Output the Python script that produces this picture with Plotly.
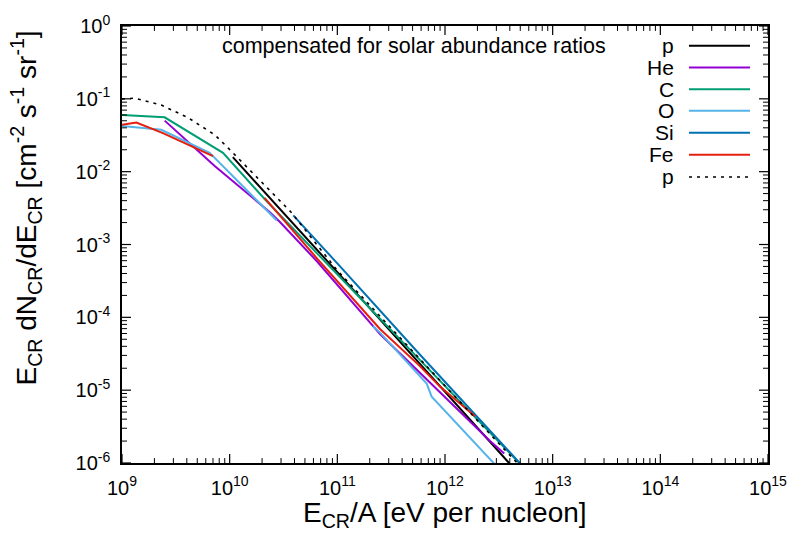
import math
import plotly.graph_objects as go

# ---------------- data (E/A in eV, flux) ----------------
p_E = [1.07e10, 2.93e10, 1e11, 3.16e11, 1e12, 3.98e12]
p_F = [1.58e-2, 3.09e-3, 4.17e-4, 6.3e-5, 9.5e-6, 9.8e-7]

he_E = [2.49e9, 7.26e9, 2.36e10, 2.93e10, 6.46e10, 2.49e11, 5.75e11, 2.62e12, 3.55e12]
he_F = [0.0502, 0.0120, 2.78e-3, 2.04e-3, 5.89e-4, 5.89e-5, 1.78e-5, 2.0e-6, 1.35e-6]

c_E = [1e9, 2.49e9, 8.67e9, 2.11e10, 4.9e12]
c_F = [0.0600, 0.0558, 0.0181, 4.22e-3, 1.0e-6]

o_E = [1e9, 2.32e9, 6.52e9, 2.74e10, None, 2.14e11, 2.49e11, 6.76e11, 7.52e11, 2.91e12]
o_F = [0.0422, 0.0376, 0.0181, 2.14e-3, None, 7.59e-5, 6.17e-5, 1.23e-5, 8.13e-6, 9.55e-7]

si_E = [3.9e10, 1e11, 5.75e11, 5.01e12]
si_F = [2.51e-3, 5.5e-4, 3.16e-5, 9.77e-7]

fe_E = [1e9, 1.36e9, 2.4e9, 7.0e9, None, 2.11e10, 6.46e10, 2.49e11, 5.75e11, 8.98e11, 1.90e12]
fe_F = [0.0440, 0.0472, 0.0339, 0.0163, None, 4.37e-3, 6.46e-4, 6.92e-5, 2.19e-5, 1.12e-5, 4.37e-6]

pd_E = [1e9, 1.32e9, 2.32e9, 4.1e9, 7.26e9, 9.66e9, 3.72e10, 1e11, 5.75e11, 4.68e12]
pd_F = [0.100, 0.102, 0.082, 0.0552, 0.0321, 0.0212, 2.78e-3, 4.4e-4, 2.75e-5, 1.0e-6]

labels = ["p", "He", "C", "O", "Si", "Fe", "p"]
colors = ["#000000", "#9400D3", "#009E73", "#56B4E9", "#0072B2", "#E51E10", "#000000"]
dashes = ["solid", "solid", "solid", "solid", "solid", "solid", "3px,5px"]

x_exps = list(range(9, 16))
y_exps = list(range(-6, 1))
x_tickvals = [10.0 ** e for e in x_exps]
x_ticktext = ["10<sup>%d</sup>" % e for e in x_exps]
y_tickvals = [10.0 ** e for e in y_exps]
y_ticktext = ["10<sup>%d</sup>" % e for e in y_exps]
x_minor = [m * 10.0 ** e for e in x_exps[:-1] for m in range(2, 10)]
y_minor = [m * 10.0 ** e for e in y_exps[:-1] for m in range(2, 10)]

series = [(p_E, p_F), (he_E, he_F), (c_E, c_F), (o_E, o_F), (si_E, si_F), (fe_E, fe_F), (pd_E, pd_F)]

FONT = "Liberation Sans, Arial, Helvetica, sans-serif"
W, H = 802, 537
L, R, T, B = 122, 34, 20, 74
PW, PH = W - L - R, H - T - B
XR = [9, 15]
YR = [-6, 0]

fig = go.Figure()
for (xe, yf), lab, col, d in zip(series, labels, colors, dashes):
    fig.add_trace(go.Scatter(x=xe, y=yf, mode="lines", name=lab, connectgaps=False,
                             line=dict(color=col, width=2 if d == "solid" else 1.6, dash=d),
                             showlegend=False))

def px2paper(px, py):
    return (px - L) / PW, (H - B - py) / PH

shapes = []
annotations = []

# tick marks on all four sides (inside), drawn as thin lines
MAJ, MIN = 9, 5
def xtick(v, ln, w):
    xp = (math.log10(v) - XR[0]) / (XR[1] - XR[0])
    for y0, y1 in ((0, ln / PH), (1, 1 - ln / PH)):
        shapes.append(dict(type="line", xref="paper", yref="paper", x0=xp, x1=xp, y0=y0, y1=y1,
                           line=dict(color="black", width=w), layer="above"))
def ytick(v, ln, w):
    yp = (math.log10(v) - YR[0]) / (YR[1] - YR[0])
    for x0, x1 in ((0, ln / PW), (1, 1 - ln / PW)):
        shapes.append(dict(type="line", xref="paper", yref="paper", x0=x0, x1=x1, y0=yp, y1=yp,
                           line=dict(color="black", width=w), layer="above"))
for v in x_tickvals:
    xtick(v, MAJ, 1.2)
for v in x_minor:
    xtick(v, MIN, 1)
for v in y_tickvals:
    ytick(v, MAJ, 1.2)
for v in y_minor:
    ytick(v, MIN, 1)

# custom gnuplot-style legend: text right-aligned, sample line to the right
rows_y = [40, 62, 84, 106, 128.3, 150.6, 173]
for lab, col, d, ry in zip(labels, colors, dashes, rows_y):
    x0, y0 = px2paper(689, ry)
    x1, _ = px2paper(750, ry)
    shapes.append(dict(type="line", xref="paper", yref="paper", x0=x0, x1=x1, y0=y0, y1=y0,
                       line=dict(color=col, width=2 if d == "solid" else 1.6, dash=d)))
    tx, ty = px2paper(676, ry)
    annotations.append(dict(text=lab, xref="paper", yref="paper", x=tx, y=ty, xanchor="right",
                            yanchor="middle", showarrow=False, font=dict(family=FONT, size=21, color="black")))

tx, ty = px2paper(608, 40)
annotations.append(dict(text="compensated for solar abundance ratios", xref="paper", yref="paper",
                        x=tx, y=ty, xanchor="right", yanchor="middle", showarrow=False,
                        font=dict(family=FONT, size=21.5, color="black")))

# axis titles
tx, ty = px2paper(L + PW / 2, 515)
annotations.append(dict(text="E<sub>CR</sub>/A [eV per nucleon]", xref="paper", yref="paper",
                        x=tx, y=ty, xanchor="center", yanchor="middle", showarrow=False,
                        font=dict(family=FONT, size=28, color="black")))
tx, ty = px2paper(27, 205)
annotations.append(dict(text="E<sub>CR</sub> dN<sub>CR</sub>/dE<sub>CR</sub> [cm<sup>-2</sup> s<sup>-1</sup> sr<sup>-1</sup>]",
                        xref="paper", yref="paper", x=tx, y=ty, xanchor="center", yanchor="middle",
                        textangle=-90, showarrow=False, font=dict(family=FONT, size=28, color="black")))

axis_common = dict(type="log", showgrid=False, zeroline=False, showline=True, linecolor="black",
                   linewidth=1.5, mirror=True, ticks="", ticklabelstandoff=6,
                   tickfont=dict(family=FONT, size=20, color="black"))

fig.update_xaxes(range=XR, tickmode="array", tickvals=x_tickvals, ticktext=x_ticktext, **axis_common)
fig.update_yaxes(range=YR, tickmode="array", tickvals=y_tickvals, ticktext=y_ticktext, **axis_common)

fig.update_layout(width=W, height=H, margin=dict(l=L, r=R, t=T, b=B, pad=0),
                  plot_bgcolor="white", paper_bgcolor="white",
                  shapes=shapes, annotations=annotations, showlegend=False,
                  font=dict(family=FONT, color="black"))

fig.write_html("out.html")
